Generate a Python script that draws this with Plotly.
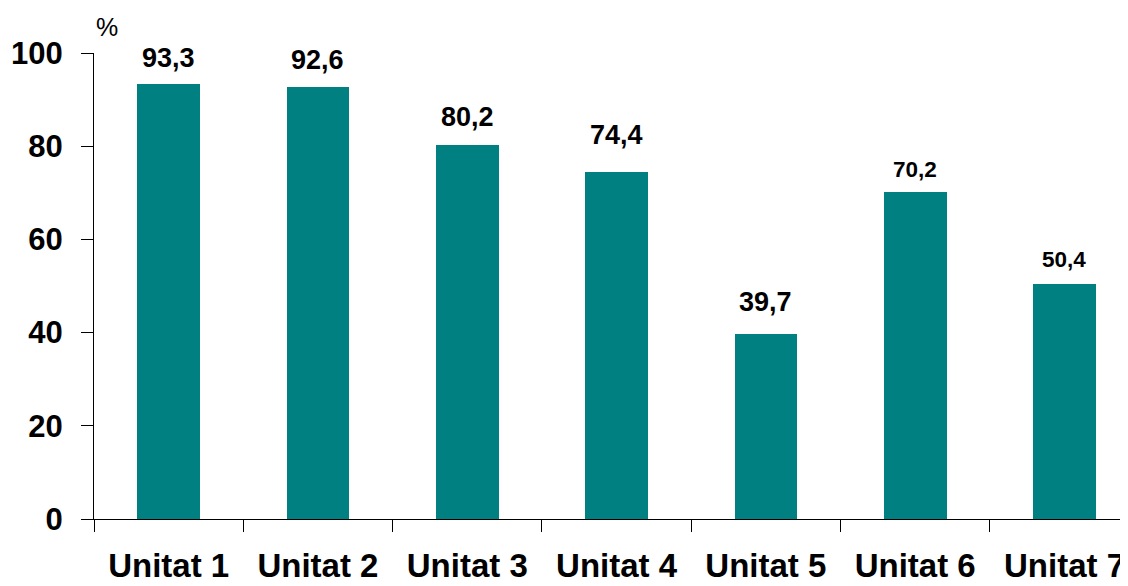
import plotly.graph_objects as go

categories = ["Unitat 1", "Unitat 2", "Unitat 3", "Unitat 4", "Unitat 5", "Unitat 6", "Unitat 7"]
values = [93.3, 92.6, 80.2, 74.4, 39.7, 70.2, 50.4]
value_labels = ["93,3", "92,6", "80,2", "74,4", "39,7", "70,2", "50,4"]
y_ticks = [0, 20, 40, 60, 80, 100]

# label styling (sizes and vertical offsets in px)
label_sizes = [27, 27, 27, 27, 27, 22.5, 22.5]
label_offsets = [9, 10, 11, 20, 15, 8, 10]

FONT = "Liberation Sans, Arial, sans-serif"
TEAL = "#008080"

fig = go.Figure()
fig.add_trace(go.Bar(
    x=categories, y=values, width=0.42,
    marker=dict(color=TEAL, line=dict(width=0)),
    hoverinfo="skip",
))

for c, v, t, s, o in zip(categories, values, value_labels, label_sizes, label_offsets):
    fig.add_annotation(
        x=c, y=v, text=f"<b>{t}</b>", showarrow=False,
        yanchor="bottom", yshift=o,
        font=dict(family=FONT, size=s, color="black"),
    )

fig.add_annotation(
    xref="paper", yref="paper", x=0, y=1, xanchor="left", yanchor="bottom",
    xshift=0, yshift=10, text="%", showarrow=False,
    font=dict(family=FONT, size=25, color="black"),
)

fig.update_layout(
    width=1128, height=586,
    margin=dict(l=86, r=0, t=45, b=75, pad=0, autoexpand=False),
    paper_bgcolor="white", plot_bgcolor="white",
    showlegend=False,
    bargap=0,
    xaxis=dict(
        type="category", range=[-0.5, 6.479], automargin=False,
        showline=True, linecolor="black", linewidth=1,
        ticks="outside", tickson="boundaries", ticklen=12, tickcolor="black", tickwidth=1,
        showgrid=False, zeroline=False,
        tickfont=dict(family=FONT, size=33, color="black", weight="bold"),
        ticklabelstandoff=17,
    ),
    yaxis=dict(
        range=[0, 100], tickvals=y_ticks, automargin=False,
        showline=True, linecolor="black", linewidth=1,
        ticks="outside", ticklen=12, tickcolor="black", tickwidth=1,
        showgrid=False, zeroline=False,
        tickfont=dict(family=FONT, size=31, color="black", weight="bold"),
        ticklabelstandoff=12,
    ),
)

fig.write_html("out.html")
